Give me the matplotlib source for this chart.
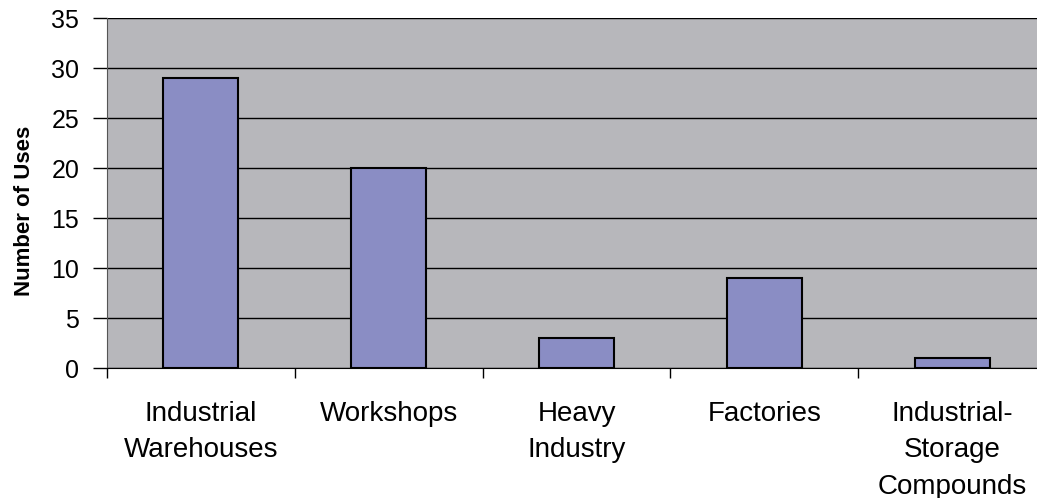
import numpy as np
import matplotlib.pyplot as plt

categories = ['Industrial\nWarehouses', 'Workshops', 'Heavy\nIndustry', 'Factories', 'Industrial-\nStorage\nCompounds']
uses = [29, 20, 3, 9, 1]
yticks = [0, 5, 10, 15, 20, 25, 30, 35]

plt.rcParams['font.family'] = ['Liberation Sans', 'DejaVu Sans']

fig = plt.figure(figsize=(10.37, 4.98), dpi=100)
# plot area runs a bit past the right edge of the picture, as in the original
ax = fig.add_axes([107/1037, 1-368/498, 939/1037, 350/498])
ax.set_facecolor('#b7b7bb')

x = np.arange(len(categories))
ax.bar(x, uses, width=0.4, color='#8a8dc4', edgecolor='black', linewidth=1.5, zorder=3)

ax.set_xlim(-0.5, len(categories) - 0.5)
ax.set_ylim(0, 35)
ax.set_yticks(yticks)
ax.set_yticklabels([str(v) for v in yticks], fontsize=18)
ax.grid(axis='y', color='black', linewidth=1, zorder=1)

# category ticks sit at the boundaries, labels in between
ax.set_xticks(np.arange(len(categories) + 1) - 0.5)
ax.set_xticklabels([''] * (len(categories) + 1))
ax.tick_params(axis='x', length=7, width=1, direction='out')
ax.tick_params(axis='y', length=10, width=1, direction='out', pad=10)
for i, c in enumerate(categories):
    ax.text(i, -3.3, c, ha='center', va='top', fontsize=20, linespacing=1.52)

for s in ['top', 'right']:
    ax.spines[s].set_visible(False)
ax.spines['left'].set_color('#555555')
ax.spines['bottom'].set_color('black')

ax.set_ylabel('Number of Uses', fontsize=16, fontweight='bold')
ax.yaxis.set_label_coords(-0.077, 0.45)

fig.savefig('out.png', dpi=100)
